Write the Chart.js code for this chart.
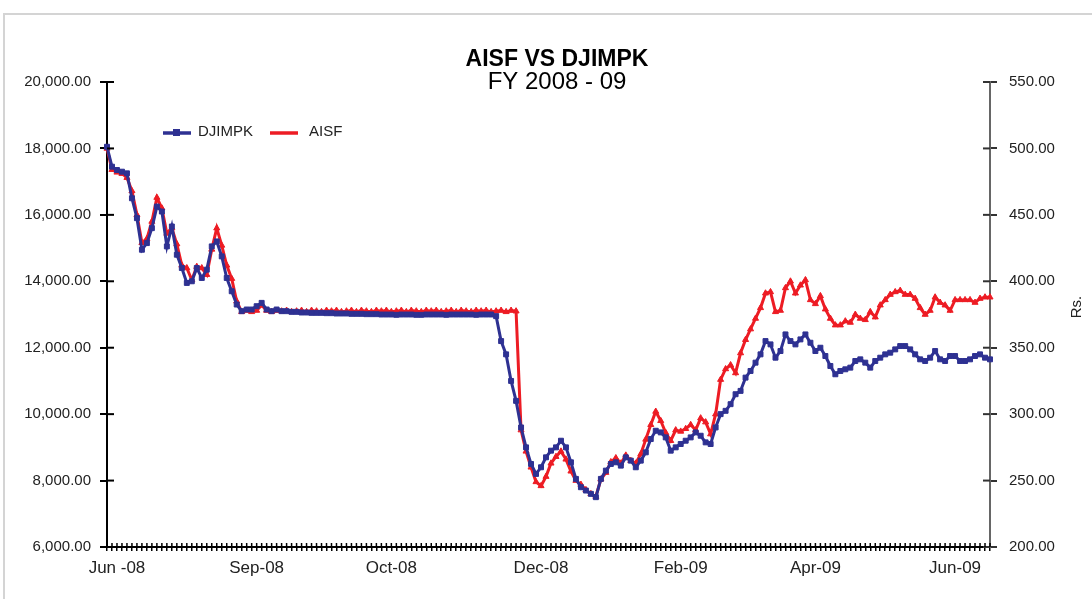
<!DOCTYPE html>
<html>
<head>
<meta charset="utf-8">
<script src="https://cdn.jsdelivr.net/npm/chart.js@4.4.0/dist/chart.umd.min.js"></script>
<style>
html, body { margin: 0; padding: 0; background: #fff; overflow: hidden; }
#frame { position: absolute; left: 3px; top: 13px; width: 1100px; height: 600px; border: 2px solid #d4d4d4; box-sizing: border-box; }
#wrap { position: absolute; left: 0; top: 0; width: 1092px; height: 599px; }
</style>
</head>
<body>
<div id="frame"></div>
<div id="wrap"><canvas id="myChart"></canvas></div>
<script>
// month labels and the category index they sit on
var monthLabels = ['Jun -08', 'Sep-08', 'Oct-08', 'Dec-08', 'Feb-09', 'Apr-09', 'Jun-09'];
var monthIndex = [2, 30, 57, 87, 115, 142, 170];

// DJIMPK index (left axis)
var djimpk = [
    18050,17450,17350,17300,17250,16500,15900,14950,15150,15600,
    16250,16100,15050,15650,14800,14400,13950,14000,14400,14100,
    14350,15050,15200,14750,14100,13700,13300,13100,13150,13150,
    13250,13350,13150,13100,13150,13100,13100,13080,13080,13060,
    13060,13050,13050,13050,13040,13040,13030,13030,13030,13020,
    13020,13020,13010,13010,13010,13000,13000,13000,12990,13000,
    13000,13000,12990,12990,13000,13000,13000,13000,12990,13000,
    13000,13000,13000,13000,12990,13000,13000,13000,12950,12200,
    11800,11000,10400,9600,9000,8500,8200,8400,8700,8900,
    9000,9200,9000,8550,8050,7800,7700,7600,7500,8050,
    8300,8500,8550,8450,8700,8600,8400,8600,8850,9250,
    9500,9450,9300,8900,9000,9100,9200,9300,9450,9350,
    9150,9100,9600,10000,10100,10300,10600,10700,11100,11300,
    11550,11800,12200,12100,11700,11900,12400,12200,12100,12250,
    12400,12150,11900,12000,11750,11450,11200,11300,11350,11400,
    11600,11650,11550,11400,11600,11700,11800,11850,11950,12050,
    12050,11950,11800,11650,11600,11700,11900,11650,11600,11750,
    11750,11600,11600,11650,11750,11800,11700,11650
];

// AISF price in Rs. (right axis)
var aisf = [
    500,484,482,481,478,468,450,429,432,445,
    463,455,436,440,428,412,410,401,411,410,
    405,424,440,427,412,402,385,377,378,377,
    378,382,378,377,378,377.5,378,377,377.5,378,
    377,378,377.5,377,378,377.5,378,377,377.5,378,
    377,378,377.5,377,378,377.5,378,377,377.5,378,
    377,378,377.5,377,378,377.5,378,377,377.5,378,
    377,378,377.5,377,378,377.5,378,377,377.5,378,
    377,378,377.5,288,272,260,249,246,253,263,
    268,272,266,257,250,247,243,240,238,251,
    256,264,267,263,269,265,263,270,281,292,
    302,295,286,280,288,287,289,292,288,297,
    294,285,300,326,334,337,331,346,356,364,
    372,380,391,392,377,378,395,400,391,397,
    401,386,383,389,379,372,367,367,370,369,
    375,372,371,377,373,382,386,390,392,393,
    390,390,387,380,375,378,388,384,382,378,
    386,386,386,386,384,387,388,388
];

var categories = djimpk.map(function () { return ''; });
monthIndex.forEach(function (idx, k) { categories[idx] = monthLabels[k]; });

var BLUE = '#2E3192';
var RED = '#ED1C24';
var FONT = '"Liberation Sans", Arial, sans-serif';

function fmt(v) {
    return Number(v).toLocaleString('en-US', { minimumFractionDigits: 2, maximumFractionDigits: 2 });
}

// title, legend, right axis name and the inner half of each tick mark
var extras = {
    id: 'extras',
    afterDraw: function (chart) {
        var ctx = chart.ctx, a = chart.chartArea;
        var yl = chart.scales.y, yr = chart.scales.y1, xs = chart.scales.x;
        ctx.save();
        ctx.strokeStyle = '#000';
        ctx.lineWidth = 2;
        yl.ticks.forEach(function (t, i) {
            var y = yl.getPixelForTick(i);
            ctx.beginPath(); ctx.moveTo(a.left, y); ctx.lineTo(a.left + 7, y); ctx.stroke();
        });
        ctx.strokeStyle = '#333';
        yr.ticks.forEach(function (t, i) {
            var y = yr.getPixelForTick(i);
            ctx.beginPath(); ctx.moveTo(a.right - 7, y); ctx.lineTo(a.right, y); ctx.stroke();
        });
        ctx.strokeStyle = '#000';
        ctx.lineWidth = 1.5;
        xs.ticks.forEach(function (t, i) {
            var x = xs.getPixelForTick(i);
            ctx.beginPath(); ctx.moveTo(x, a.bottom - 4); ctx.lineTo(x, a.bottom); ctx.stroke();
        });

        ctx.fillStyle = '#000';
        ctx.textAlign = 'center';
        ctx.textBaseline = 'middle';
        ctx.font = 'bold 23px ' + FONT;
        ctx.fillText('AISF VS DJIMPK', 557, 60);
        ctx.font = '24px ' + FONT;
        ctx.fillText('FY 2008 - 09', 557, 82);

        // legend
        ctx.lineWidth = 3.5;
        ctx.strokeStyle = BLUE;
        ctx.beginPath(); ctx.moveTo(163, 133); ctx.lineTo(191, 133); ctx.stroke();
        ctx.fillStyle = BLUE;
        ctx.fillRect(173, 129, 7, 7);
        ctx.strokeStyle = RED;
        ctx.beginPath(); ctx.moveTo(270, 133); ctx.lineTo(298, 133); ctx.stroke();
        ctx.fillStyle = '#222';
        ctx.textAlign = 'left';
        ctx.font = '15px ' + FONT;
        ctx.fillText('DJIMPK', 198, 132);
        ctx.fillText('AISF', 309, 132);

        ctx.translate(1077, 307);
        ctx.rotate(-Math.PI / 2);
        ctx.textAlign = 'center';
        ctx.fillText('Rs.', 0, 0);
        ctx.restore();
    }
};

var ctx = document.getElementById('myChart');
var myChart = new Chart(ctx, {
    type: 'line',
    data: {
        labels: categories,
        datasets: [
            {
                label: 'DJIMPK',
                data: djimpk,
                yAxisID: 'y',
                borderColor: BLUE,
                backgroundColor: BLUE,
                borderWidth: 3,
                pointStyle: 'rect',
                pointRadius: 3.5,
                pointBorderWidth: 1,
                tension: 0
            },
            {
                label: 'AISF',
                data: aisf,
                yAxisID: 'y1',
                borderColor: RED,
                backgroundColor: RED,
                borderWidth: 3,
                pointStyle: 'triangle',
                pointRadius: 3.5,
                pointBorderWidth: 1,
                tension: 0
            }
        ]
    },
    options: {
        responsive: true,
        maintainAspectRatio: false,
        animation: false,
        layout: { padding: { top: 82, left: 0, right: 0, bottom: 0 } },
        plugins: {
            legend: { display: false },
            title: { display: false },
            tooltip: { enabled: false }
        },
        scales: {
            x: {
                type: 'category',
                offset: false,
                grid: { drawOnChartArea: false, tickLength: 4, color: '#000', lineWidth: 1.5 },
                border: { color: '#000', width: 2 },
                ticks: {
                    autoSkip: false, maxRotation: 0, minRotation: 0, padding: 7,
                    color: '#222', font: { family: FONT, size: 17 }
                },
                afterFit: function (s) { s.height = 52; }
            },
            y: {
                position: 'left',
                min: 6000,
                max: 20000,
                grid: { drawOnChartArea: false, tickLength: 7, color: '#000', lineWidth: 2 },
                border: { color: '#000', width: 2 },
                ticks: {
                    stepSize: 2000, padding: 9, color: '#222',
                    font: { family: FONT, size: 15 },
                    callback: function (v) { return fmt(v); }
                },
                afterFit: function (s) { s.width = 107; }
            },
            y1: {
                position: 'right',
                min: 200,
                max: 550,
                grid: { drawOnChartArea: false, tickLength: 7, color: '#333', lineWidth: 2 },
                border: { color: '#666', width: 2 },
                ticks: {
                    stepSize: 50, padding: 12, color: '#222',
                    font: { family: FONT, size: 15 },
                    callback: function (v) { return fmt(v); }
                },
                afterFit: function (s) { s.width = 102; }
            }
        }
    },
    plugins: [extras]
});
</script>
</body>
</html>
